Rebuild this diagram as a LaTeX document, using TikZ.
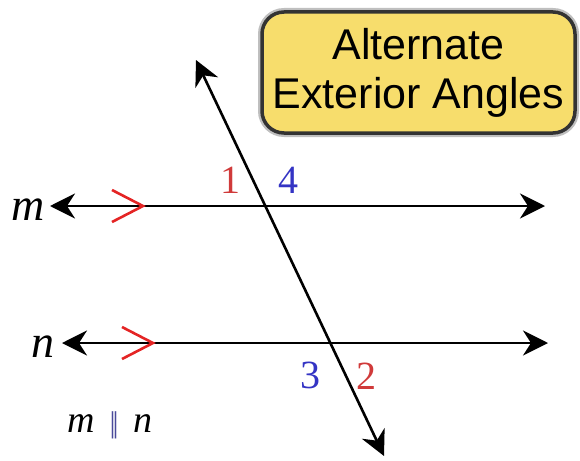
\documentclass[tikz,border=0pt]{standalone}
\usepackage{fontspec}
\setmainfont{Liberation Serif}
\newfontfamily\boxfont{Liberation Sans}
\usepackage{xcolor}
\usepackage{tikz}
\usetikzlibrary{arrows.meta}
\definecolor{boxyellow}{HTML}{F7DD6C}
\definecolor{angred}{HTML}{D03A3A}
\definecolor{angblue}{HTML}{3434C4}
\definecolor{tickred}{HTML}{E42424}
\definecolor{parblue}{HTML}{4A4A9A}

\begin{document}
\begin{tikzpicture}[x=1pt, y=-1pt,
  line/.style={{Stealth[length=25pt,width=25pt,inset=8pt]}-{Stealth[length=25pt,width=25pt,inset=8pt]},
    line width=2.6pt, black},
  tick/.style={tickred, line width=2.6pt},
  anglbl/.style={font=\fontsize{40}{40}\selectfont, anchor=base, inner sep=0pt},
  linelbl/.style={font=\fontsize{46}{46}\selectfont\itshape, anchor=base, inner sep=0pt},
  title/.style={draw=black!80, line width=3.5pt, fill=boxyellow, rounded corners=22pt,
    minimum width=313pt, minimum height=121pt, align=center,
    font=\boxfont\fontsize{43}{49}\selectfont, preaction={draw=black!25, line width=8pt}}
]
\useasboundingbox (0,0) rectangle (580,460);
% title box
\node[title] (ttl) at (418.5,72.5) {Alternate\\Exterior Angles};
% line ends
\coordinate (mL) at (50,206);
\coordinate (mR) at (545,206);
\coordinate (nL) at (62,343);
\coordinate (nR) at (548,343);
\coordinate (tT) at (196,60);
\coordinate (tB) at (384,456);
% parallel lines and transversal
\draw[line] (mL) -- (mR);
\draw[line] (nL) -- (nR);
\draw[line] (tT) -- (tB);
% parallel marks
\draw[tick] (112,190) -- (143,206) -- (112,222);
\draw[tick] (122,327) -- (153,343) -- (122,359);
% line names
\node[linelbl] (mlbl) at (28,220) {m};
\node[linelbl] (nlbl) at (43,357) {n};
% angles
\node[anglbl, text=angred] (a1) at (230,193) {1};
\node[anglbl, text=angblue] (a4) at (288,193) {4};
\node[anglbl, text=angblue] (a3) at (310,388) {3};
\node[anglbl, text=angred] (a2) at (366,389) {2};
% given
\node[anglbl, font=\fontsize{38}{38}\selectfont] (given) at (110,432)
  {\textit{m}\hspace{15pt}\textcolor{parblue}{\fontsize{30}{30}\selectfont|\kern-3pt|}\hspace{15pt}\textit{n}};
\end{tikzpicture}
\end{document}
